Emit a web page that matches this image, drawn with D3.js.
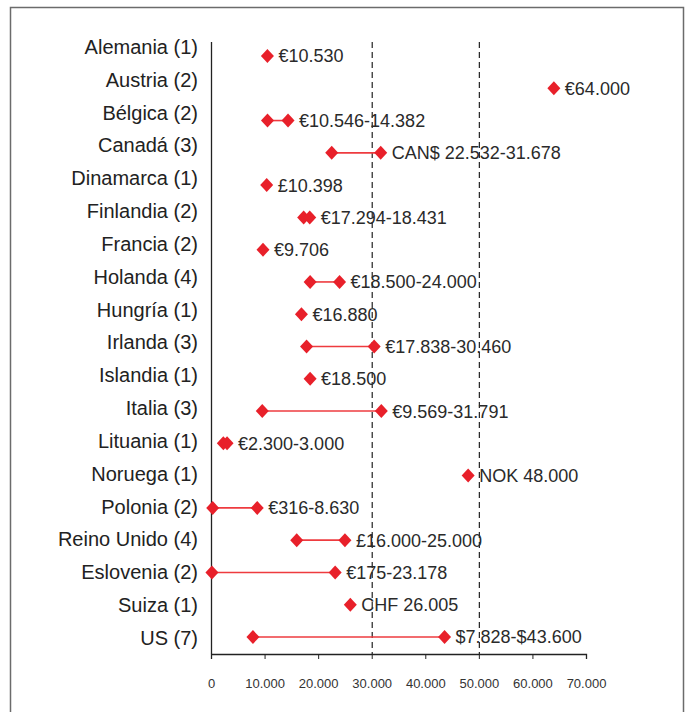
<!DOCTYPE html>
<html>
<head>
<meta charset="utf-8">
<script src="https://cdn.jsdelivr.net/npm/d3@7"></script>
<style>
  body { margin: 0; background: #fff; }
  svg { display: block; font-family: "Liberation Sans", Arial, Helvetica, sans-serif; }
</style>
</head>
<body>
<div id="chart"></div>
<script>
const WIDTH = 686;
const HEIGHT = 712;

// datos: salario minimo / rango por pais
const countries = ["Alemania (1)", "Austria (2)", "Bélgica (2)", "Canadá (3)", "Dinamarca (1)",
    "Finlandia (2)", "Francia (2)", "Holanda (4)", "Hungría (1)", "Irlanda (3)", "Islandia (1)",
    "Italia (3)", "Lituania (1)", "Noruega (1)", "Polonia (2)", "Reino Unido (4)", "Eslovenia (2)",
    "Suiza (1)", "US (7)"];
const minValues = [10530, 64000, 10546, 22532, 10398, 17294, 9706, 18500, 16880, 17838, 18500,
    9569, 2300, 48000, 316, 16000, 175, 26005, 7828];
const maxValues = [10530, 64000, 14382, 31678, 10398, 18431, 9706, 24000, 16880, 30460, 18500,
    31791, 3000, 48000, 8630, 25000, 23178, 26005, 43600];
const valueLabels = ["€10.530", "€64.000", "€10.546-14.382", "CAN$ 22.532-31.678", "£10.398",
    "€17.294-18.431", "€9.706", "€18.500-24.000", "€16.880", "€17.838-30.460", "€18.500",
    "€9.569-31.791", "€2.300-3.000", "NOK 48.000", "€316-8.630", "£16.000-25.000",
    "€175-23.178", "CHF 26.005", "$7.828-$43.600"];
const xTicks = [0, 10000, 20000, 30000, 40000, 50000, 60000, 70000];
const refLines = [30000, 50000];

const data = countries.map((c, i) => ({
    country: c,
    min: minValues[i],
    max: maxValues[i],
    label: valueLabels[i]
}));

const margin = { left: 211, right: 99, top: 42, bottom: 58 };

const svg = d3.select("#chart").append("svg")
    .attr("width", WIDTH)
    .attr("height", HEIGHT);

// marco
svg.append("rect")
    .attr("x", 10.5)
    .attr("y", 7.5)
    .attr("width", 673)
    .attr("height", 720)
    .attr("fill", "none")
    .attr("stroke", "#6b6b6b")
    .attr("stroke-width", 1.5);

const x = d3.scaleLinear()
    .domain([0, 70000])
    .range([margin.left, WIDTH - margin.right - 1]);

const y = d3.scalePoint()
    .domain(countries)
    .range([56, 637]);

const axisY = HEIGHT - margin.bottom;

// lineas de referencia
svg.selectAll(".ref")
    .data(refLines)
    .join("line")
    .attr("class", "ref")
    .attr("x1", d => x(d) + 0.5)
    .attr("x2", d => x(d) + 0.5)
    .attr("y1", margin.top)
    .attr("y2", axisY)
    .attr("stroke", "#222")
    .attr("stroke-width", 1.2)
    .attr("stroke-dasharray", "6,4");

// eje x
const gx = svg.append("g")
    .attr("transform", `translate(0, ${axisY})`)
    .call(d3.axisBottom(x)
        .tickValues(xTicks)
        .tickSize(5)
        .tickPadding(20)
        .tickFormat(d => d3.format(",")(d).replace(/,/g, ".")));
gx.select(".domain").attr("stroke", "#222").attr("stroke-width", 1.3);
gx.selectAll(".tick line").attr("stroke", "#222");
gx.selectAll(".tick text")
    .attr("fill", "#333")
    .style("font-size", "13px")
    .style("font-family", "Liberation Sans, Arial, sans-serif");

// eje y
const gy = svg.append("g")
    .attr("transform", `translate(${margin.left}, 0)`)
    .call(d3.axisLeft(y).tickSize(0).tickPadding(13));
gy.select(".domain")
    .attr("d", `M0.5,${margin.top}V${axisY}`)
    .attr("stroke", "#222")
    .attr("stroke-width", 1.3);
gy.selectAll(".tick text")
    .attr("fill", "#222")
    .attr("dy", "0.2em")
    .style("font-size", "20px")
    .style("font-family", "Liberation Sans, Arial, sans-serif");
gy.selectAll(".tick")
    .attr("transform", (d, i) => `translate(0, ${y(d) - 6 + i * 0.55})`);

// rangos
svg.selectAll(".range")
    .data(data.filter(d => d.max > d.min))
    .join("line")
    .attr("class", "range")
    .attr("x1", d => x(d.min))
    .attr("x2", d => x(d.max))
    .attr("y1", d => y(d.country))
    .attr("y2", d => y(d.country))
    .attr("stroke", "#ee3b3f")
    .attr("stroke-width", 1.6);

const diamond = "M0,-7L6.5,0L0,7L-6.5,0Z";

const points = data.flatMap(d => d.max > d.min
    ? [{ country: d.country, v: d.min }, { country: d.country, v: d.max }]
    : [{ country: d.country, v: d.min }]);

svg.selectAll(".pt")
    .data(points)
    .join("path")
    .attr("class", "pt")
    .attr("d", diamond)
    .attr("transform", d => `translate(${x(d.v)}, ${y(d.country)})`)
    .attr("fill", "#e8202a");

// etiquetas de valores
svg.selectAll(".lbl")
    .data(data)
    .join("text")
    .attr("class", "lbl")
    .attr("x", d => x(d.max) + 11)
    .attr("y", d => y(d.country))
    .attr("dy", "0.36em")
    .attr("fill", "#2a2a2a")
    .style("font-size", "18px")
    .text(d => d.label);
</script>
</body>
</html>
